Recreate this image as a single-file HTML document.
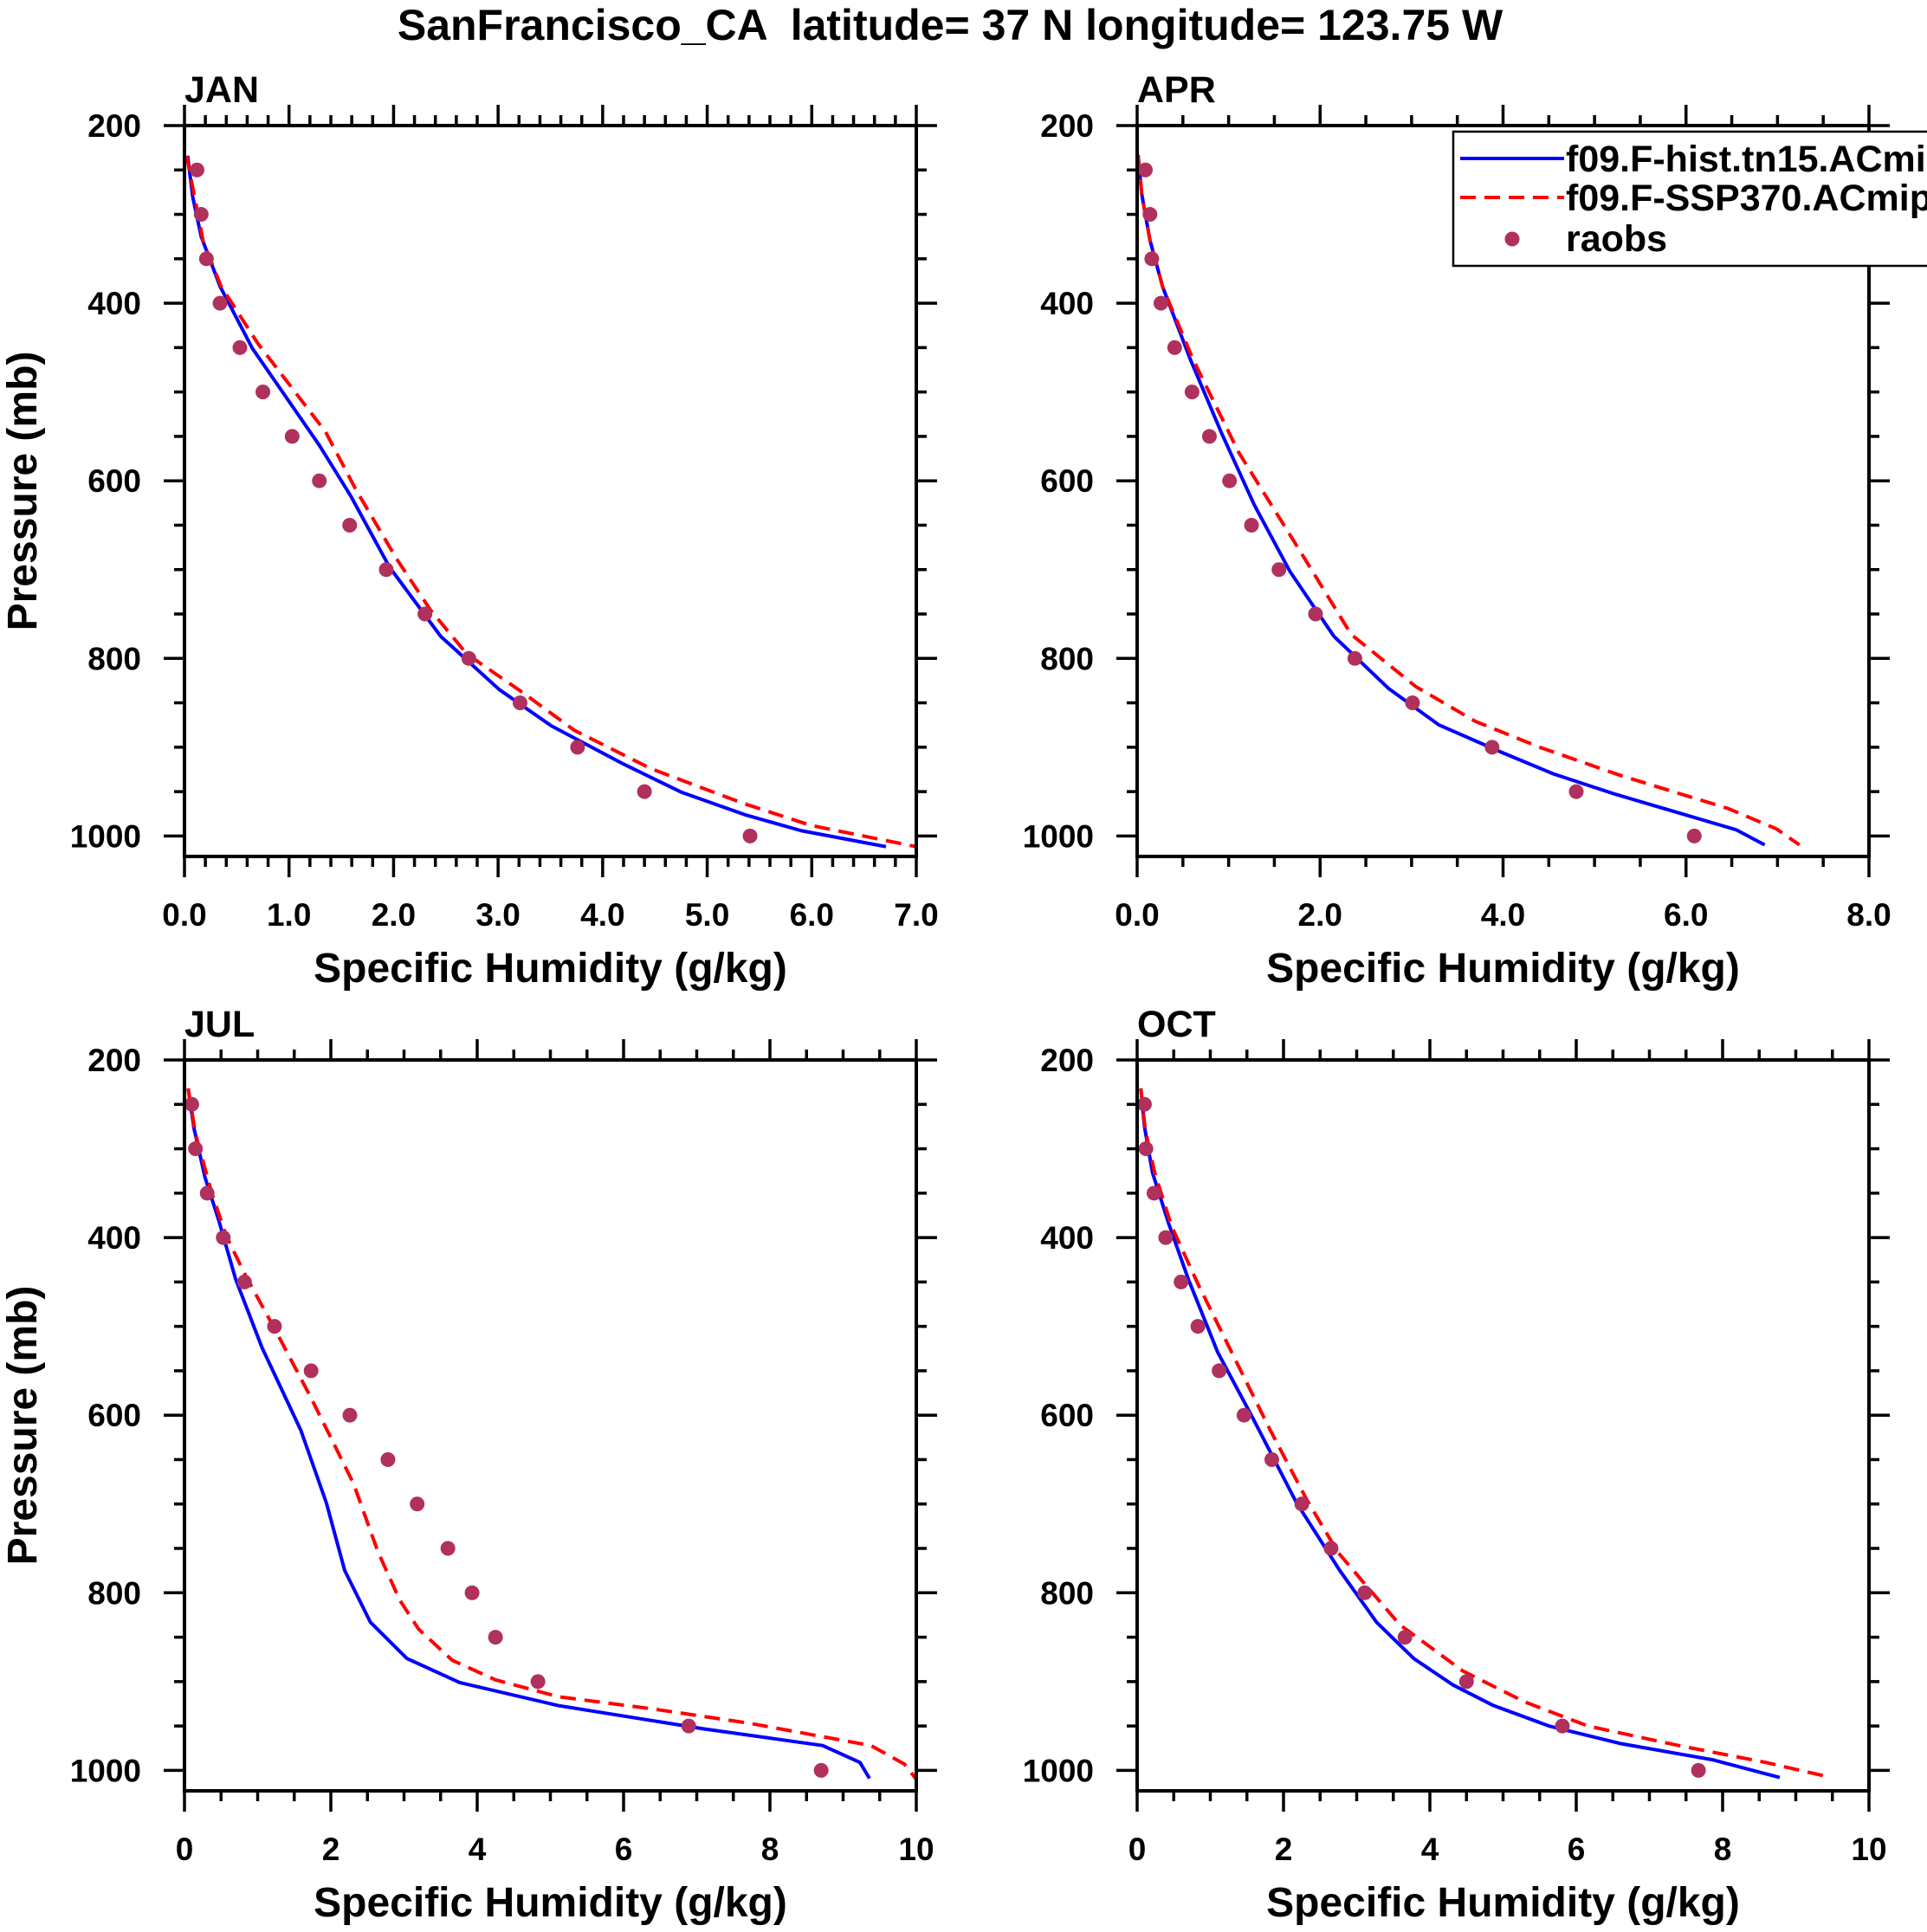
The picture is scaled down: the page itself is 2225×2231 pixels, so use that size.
<!DOCTYPE html>
<html><head><meta charset="utf-8"><style>
html,body{margin:0;padding:0;background:#fff;}
svg{display:block;font-family:"Liberation Sans",Arial,sans-serif;font-weight:bold;}
</style></head><body>
<svg id="chart" width="2225" height="2231" viewBox="0 0 2225 2231" xmlns="http://www.w3.org/2000/svg">
<rect width="2225" height="2231" fill="#fff"/>
<text x="1097" y="46" font-size="50" text-anchor="middle" style="white-space:pre" xml:space="preserve">SanFrancisco_CA  latitude= 37 N longitude= 123.75 W</text>
<g id="panels"></g>
</svg>
<script>
// ---- data ----
const obsP = [250,300,350,400,450,500,550,600,650,700,750,800,850,900,950,1000];
const janObs = [0.12,0.16,0.21,0.34,0.53,0.75,1.03,1.29,1.58,1.93,2.30,2.72,3.21,3.76,4.40,5.41];
const aprObs = [0.09,0.14,0.16,0.26,0.41,0.60,0.79,1.01,1.25,1.55,1.95,2.38,3.01,3.88,4.80,6.09];
const julObs = [0.10,0.15,0.31,0.53,0.82,1.23,1.73,2.26,2.78,3.18,3.60,3.93,4.25,4.83,6.89,8.70];
const octObs = [0.10,0.12,0.23,0.39,0.60,0.83,1.12,1.46,1.84,2.25,2.65,3.11,3.66,4.50,5.81,7.67];

const janHistP = [234,281,325,381,451,560,617,697,775,835,876,919,951,976,994,1012];
const janHistQ = [0.03,0.08,0.16,0.34,0.65,1.29,1.59,1.96,2.45,3.01,3.51,4.20,4.76,5.36,5.90,6.71];
const janSspP = [234,331,381,445,545,610,688,745,795,838,881,924,963,988,1012];
const janSspQ = [0.02,0.18,0.35,0.70,1.35,1.64,2.03,2.35,2.70,3.23,3.73,4.46,5.34,5.99,7.00];

const aprHistP = [233,277,329,382,463,548,627,702,775,834,875,906,930,953,993,1010];
const aprHistQ = [0.01,0.05,0.14,0.28,0.58,0.93,1.28,1.67,2.15,2.75,3.30,3.99,4.55,5.23,6.55,6.86];
const aprSspP = [233,277,329,382,463,568,679,773,832,871,900,932,969,992,1010];
const aprSspQ = [0.01,0.05,0.14,0.28,0.61,1.11,1.78,2.34,3.05,3.70,4.40,5.29,6.46,6.99,7.24];

const julHistP = [232,277,332,381,447,524,617,699,775,833,874,901,927,953,972,991,1009];
const julHistQ = [0.05,0.13,0.28,0.47,0.70,1.06,1.59,1.94,2.19,2.54,3.04,3.76,5.11,7.08,8.72,9.23,9.36];
const julSspP = [232,283,349,398,442,507,579,622,677,753,808,841,876,898,917,931,947,972,993,1010];
const julSspQ = [0.05,0.15,0.37,0.57,0.83,1.26,1.72,1.98,2.31,2.64,2.94,3.20,3.66,4.25,5.11,6.42,7.73,9.38,9.84,10.0];

const octHistP = [232,275,327,384,447,529,600,699,775,833,874,904,927,950,970,988,1008];
const octHistQ = [0.05,0.10,0.21,0.43,0.70,1.10,1.56,2.18,2.77,3.27,3.78,4.32,4.87,5.63,6.62,7.86,8.78];
const octSspP = [232,278,327,387,452,529,617,694,754,789,836,888,923,950,972,991,1006];
const octSspQ = [0.05,0.11,0.24,0.47,0.83,1.29,1.82,2.31,2.74,3.10,3.59,4.45,5.30,6.16,7.40,8.59,9.38];

const janXTicks = ["0.0","1.0","2.0","3.0","4.0","5.0","6.0","7.0"];
const aprXTicks = ["0.0","2.0","4.0","6.0","8.0"];
const julXTicks = ["0","2","4","6","8","10"];
const octXTicks = ["0","2","4","6","8","10"];
const yTicks = [200,400,600,800,1000];

// ---- layout ----
const NS = "http://www.w3.org/2000/svg";
const root = document.getElementById('panels');
function mk(tag, attrs, parent){ const e=document.createElementNS(NS,tag); for(const k in attrs) e.setAttribute(k,attrs[k]); (parent||root).appendChild(e); return e; }

const panels = [
 {name:'jan', label:'JAN', x0:213, y0:145, xmax:7, xstep:1, xminor:0.2, ticks:janXTicks, obs:janObs, hp:janHistP, hq:janHistQ, sp:janSspP, sq:janSspQ, ytitle:true},
 {name:'apr', label:'APR', x0:1313, y0:145, xmax:8, xstep:2, xminor:0.5, ticks:aprXTicks, obs:aprObs, hp:aprHistP, hq:aprHistQ, sp:aprSspP, sq:aprSspQ, ytitle:false, legend:true},
 {name:'jul', label:'JUL', x0:213, y0:1224, xmax:10, xstep:2, xminor:0.5, ticks:julXTicks, obs:julObs, hp:julHistP, hq:julHistQ, sp:julSspP, sq:julSspQ, ytitle:true},
 {name:'oct', label:'OCT', x0:1313, y0:1224, xmax:10, xstep:2, xminor:0.5, ticks:octXTicks, obs:octObs, hp:octHistP, hq:octHistQ, sp:octSspP, sq:octSspQ, ytitle:false}
];
const W=845, H=844, PMIN=200, PMAX=1023;

panels.forEach(pn=>{
  const g = mk('g',{});
  
  
  const xs = v => pn.x0 + v/pn.xmax*W;
  const ys = p => pn.y0 + (p-PMIN)/(PMAX-PMIN)*H;
  const x1 = pn.x0+W, y1 = pn.y0+H;

  const clipId = 'clip-'+pn.name;
  const cp = mk('clipPath',{id:clipId},g);
  mk('rect',{x:pn.x0,y:pn.y0,width:W,height:H},cp);

  const lbl = mk('text',{x:pn.x0,y:pn.y0-27,'font-size':43},g);
  lbl.textContent = pn.label;
  
  

  const tk = mk('g',{stroke:'#000','stroke-width':3.5},g);
  
  
  const nMinor = Math.round(pn.xmax/pn.xminor);
  for(let i=0;i<=nMinor;i++){
    const v=i*pn.xminor; const x=xs(v);
    const major = Math.abs(v/pn.xstep - Math.round(v/pn.xstep))<1e-6;
    const L = major?24:12;
    mk('line',{x1:x,y1:y1,x2:x,y2:y1+L},tk);
    mk('line',{x1:x,y1:pn.y0,x2:x,y2:pn.y0-L},tk);
  }
  for(let p=200;p<=1000;p+=50){
    const y=ys(p); const major = p%200===0; const L=major?24:12;
    mk('line',{x1:pn.x0,y1:y,x2:pn.x0-L,y2:y},tk);
    mk('line',{x1:x1,y1:y,x2:x1+L,y2:y},tk);
  }
  pn.ticks.forEach((t,i)=>{
    const tx = mk('text',{x:xs(i*pn.xstep),y:y1+80,'font-size':37,'text-anchor':'middle'},g);
    tx.textContent=t;
    
    
  });
  yTicks.forEach(p=>{
    const ty = mk('text',{x:pn.x0-50,y:ys(p)+13,'font-size':37,'text-anchor':'end'},g);
    ty.textContent=String(p);
    
    
  });
  const xt = mk('text',{x:pn.x0+W/2,y:y1+145,'font-size':48,'text-anchor':'middle'},g);
  xt.textContent='Specific Humidity (g/kg)';
  
  
  if(pn.ytitle){
    const yt = mk('text',{x:0,y:0,'font-size':48,'text-anchor':'middle',transform:`translate(42,${pn.y0+H/2}) rotate(-90)`},g);
    yt.textContent='Pressure (mb)';
    
    
  }

  const dg = mk('g',{'clip-path':`url(#${clipId})`},g);
  const hist = mk('polyline',{points:pn.hq.map((q,i)=>xs(q)+','+ys(pn.hp[i])).join(' '),fill:'none',stroke:'#0000ff','stroke-width':4,'stroke-linejoin':'round'},dg);
  
  
  const ssp = mk('polyline',{points:pn.sq.map((q,i)=>xs(q)+','+ys(pn.sp[i])).join(' '),fill:'none',stroke:'#ff0000','stroke-width':4,'stroke-dasharray':'18 10'},dg);
  
  
  pn.obs.forEach((q,i)=>{
    const c = mk('circle',{cx:xs(q),cy:ys(obsP[i]),r:8.5,fill:'#b0305e'},dg);
    
    
  });

  const fr = mk('rect',{x:pn.x0,y:pn.y0,width:W,height:H,fill:'none',stroke:'#000','stroke-width':4},g);
  
  

  if(pn.legend){
    const lg = mk('g',{},g);
    
    
    mk('rect',{x:1678,y:152,width:600,height:155,fill:'#fff',stroke:'#000','stroke-width':2.5},lg);
    mk('line',{x1:1686,y1:183,x2:1806,y2:183,stroke:'#0000ff','stroke-width':4},lg);
    mk('line',{x1:1686,y1:228,x2:1806,y2:228,stroke:'#ff0000','stroke-width':4,'stroke-dasharray':'18 10'},lg);
    mk('circle',{cx:1746,cy:276,r:8.5,fill:'#b0305e'},lg);
    const t1=mk('text',{x:1808,y:198,'font-size':43},lg); t1.textContent='f09.F-hist.tn15.ACmip';
    
    
    const t2=mk('text',{x:1808,y:243,'font-size':43},lg); t2.textContent='f09.F-SSP370.ACmip';
    
    
    const t3=mk('text',{x:1808,y:290,'font-size':43},lg); t3.textContent='raobs';
    
    
  }
});
</script>
</body></html>
